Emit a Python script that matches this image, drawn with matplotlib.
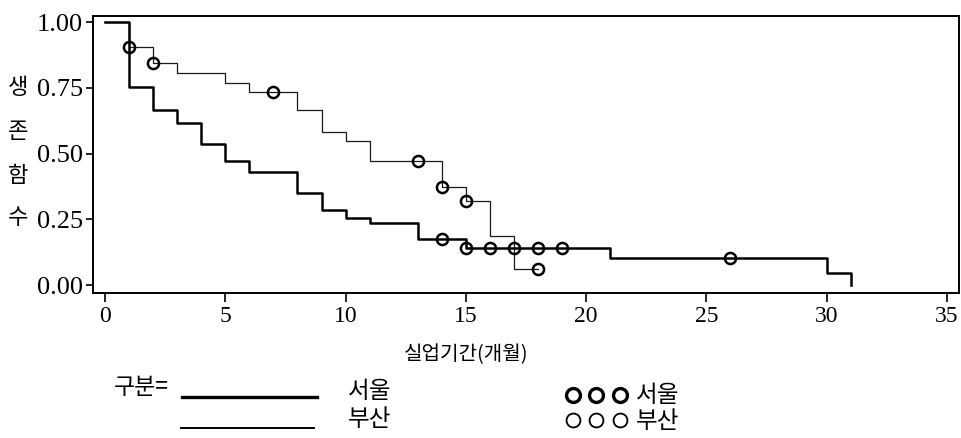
import numpy as np
import matplotlib.pyplot as plt
from matplotlib.lines import Line2D

# Kaplan-Meier step values
# 서울 (thick line, lower curve)
seoul_months = [0, 1, 2, 3, 4, 5, 6, 8, 9, 10, 11, 13, 15, 21, 30, 31]
seoul_surv = [1.0, 0.753, 0.664, 0.616, 0.538, 0.473, 0.429, 0.350, 0.286,
              0.257, 0.238, 0.177, 0.142, 0.102, 0.045, 0.0]
seoul_cens_t = [14, 15, 16, 17, 18, 19, 26]
seoul_cens_s = [0.177, 0.142, 0.142, 0.142, 0.142, 0.142, 0.102]

# 부산 (thin line, upper curve)
busan_months = [0, 1, 2, 3, 5, 6, 8, 9, 10, 11, 14, 15, 16, 17, 18]
busan_surv = [1.0, 0.905, 0.843, 0.806, 0.768, 0.734, 0.664, 0.581, 0.546,
              0.470, 0.374, 0.321, 0.187, 0.060, 0.060]
busan_cens_t = [1, 2, 7, 13, 14, 15, 18]
busan_cens_s = [0.905, 0.843, 0.734, 0.470, 0.374, 0.321, 0.060]

x_ticks = [0, 5, 10, 15, 20, 25, 30, 35]
y_ticks = [0.0, 0.25, 0.5, 0.75, 1.0]
y_label_chars = ['생', '존', '함', '수']

KR = ['Noto Sans CJK KR', 'DejaVu Sans']
SERIF = 'Liberation Serif'

W, H = 962, 438


def fp(x, y):
    """pixel -> figure fraction"""
    return x / W, 1 - y / H


fig = plt.figure(figsize=(W / 100, H / 100), dpi=100)
ax = fig.add_axes([92.7 / W, 1 - 293 / H, (959 - 92.7) / W, (293 - 16) / H])

ax.step(busan_months, busan_surv, where='post', color='#1a1a1a', lw=0.9)
ax.step(seoul_months, seoul_surv, where='post', color='black', lw=1.8)
ax.plot(busan_cens_t, busan_cens_s, 'o', ms=8, mfc='none', mec='black', mew=1.8)
ax.plot(seoul_cens_t, seoul_cens_s, 'o', ms=8, mfc='none', mec='black', mew=1.8)

ax.set_xlim(-0.516, 35.51)
ax.set_ylim(-0.030, 1.023)
ax.set_xticks(x_ticks)
ax.set_yticks(y_ticks)
ax.set_xticklabels([str(v) for v in x_ticks], family=SERIF, fontsize=17)
ax.set_yticklabels([f'{v:.2f}' for v in y_ticks], family=SERIF, fontsize=19)
ax.tick_params(axis='x', direction='out', length=6.5, width=1.2, pad=3)
ax.tick_params(axis='y', direction='out', length=5, width=1.2, pad=2)
for s in ax.spines.values():
    s.set_linewidth(1.4)

# vertical stacked y label
for ch, py in zip(y_label_chars, [88, 131, 175, 218]):
    fig.text(*fp(18, py), ch, family=KR, fontsize=16, ha='center', va='center')

fig.text(*fp(466, 355), '실업기간(개월)', family=KR, fontsize=14.5,
         ha='center', va='center')

# legend block
fig.text(*fp(114, 388), '구분=', family=KR, fontsize=16.5, ha='left', va='center')
fig.add_artist(Line2D([182 / W, 317 / W], [1 - 397 / H, 1 - 397 / H],
                      color='black', lw=2.4, transform=fig.transFigure))
fig.add_artist(Line2D([181 / W, 314 / W], [1 - 428 / H, 1 - 428 / H],
                      color='black', lw=1.4, transform=fig.transFigure))
fig.text(*fp(348, 392), '서울', family=KR, fontsize=17, ha='left', va='center')
fig.text(*fp(348, 419), '부산', family=KR, fontsize=17, ha='left', va='center')

circ_x = [573 / W, 596 / W, 620 / W]
fig.add_artist(Line2D(circ_x, [1 - 395 / H] * 3, ls='none', marker='o', ms=10,
                      mfc='none', mec='black', mew=2.4, transform=fig.transFigure))
fig.add_artist(Line2D(circ_x, [1 - 420 / H] * 3, ls='none', marker='o', ms=10,
                      mfc='none', mec='black', mew=1.3, transform=fig.transFigure))
fig.text(*fp(636, 395), '서울', family=KR, fontsize=17, ha='left', va='center')
fig.text(*fp(636, 421), '부산', family=KR, fontsize=17, ha='left', va='center')

fig.savefig('out.png', dpi=100)
